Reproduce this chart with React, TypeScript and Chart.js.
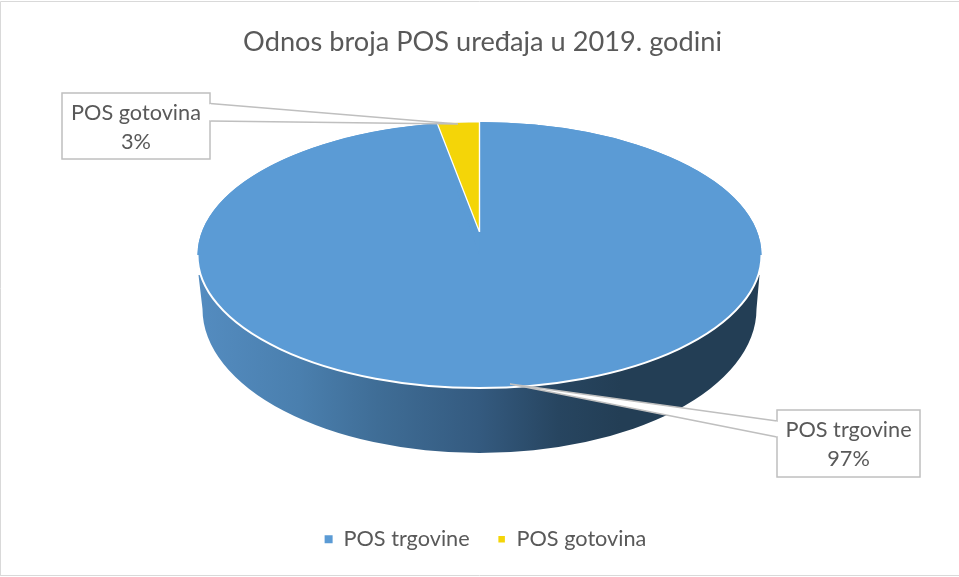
import React, { useEffect, useRef } from "react";
import { Chart, registerables } from "chart.js";

Chart.register(...registerables);

const categories = ["POS trgovine", "POS gotovina"];
const shares = [97.4, 2.6];
const sliceColors = ["#5B9BD5", "#F4D508"];
const chartTitle = "Odnos broja POS uređaja u 2019. godini";

const FONT = "Lato, Carlito, Calibri, sans-serif";
const TEXT = "#595959";
const LINE = "#BFBFBF";

// 3D projection of the disc
const RADIUS = 282;
const TOP_CX = 479.5;
const TOP_CY = 255;
const TILT = 133 / RADIUS;
const APEX_RISE = 23; // perspective: the visual centre of the disc lies above the ellipse centre
const BACK_TILT = 110 / RADIUS;
const BACK_SX = 0.92;
const BASE_DROP = 54;
const BASE_RX = 277;
const BASE_RY = 144;
const LEGEND_NUDGE = 3;

const callouts = [
  { box: [62, 93, 148, 66], neck: [[210, 103.5], [458, 124], [210, 121]] },
  { box: [777, 410, 143, 67], neck: [[777, 421], [510, 384], [777, 437]] },
];
const calloutOrder = [1, 0];

const tiltPlugin = {
  id: "tilt",
  afterLayout(chart: any) {
    chart.legend.left += LEGEND_NUDGE;
    chart.legend.right += LEGEND_NUDGE;
  },
  beforeDatasetsDraw(chart: any) {
    const { ctx } = chart;
    const arcs = chart.getDatasetMeta(0).data;
    const cx = TOP_CX;
    const r = arcs[0].outerRadius;
    arcs.forEach((arc: any, i: number) => {
      if (arc.__wrapped) return;
      arc.__wrapped = true;
      const original = arc.draw.bind(arc);
      arc.draw = (c: any, area: any) => {
        c.save();
        const back = i === 1;
        c.translate(TOP_CX, TOP_CY - (back ? APEX_RISE : 0));
        c.scale(back ? BACK_SX : 1, back ? BACK_TILT : TILT);
        c.translate(-arc.x, -arc.y);
        original(c, area);
        c.restore();
      };
    });
    // Side wall
    const baseCy = TOP_CY + BASE_DROP;
    const wallTop = TOP_CY + 20;
    const g = ctx.createLinearGradient(cx - r, 0, cx + r, 0);
    const stops: [number, string][] = [
      [0, "#548CC0"],
      [0.18, "#4A7FAE"],
      [0.32, "#3F6D96"],
      [0.5, "#345A7F"],
      [0.64, "#274560"],
      [0.75, "#233E55"],
      [1, "#233E55"],
    ];
    stops.forEach(([o, col]) => g.addColorStop(o, col));
    ctx.save();
    ctx.beginPath();
    ctx.moveTo(cx - r + 1, wallTop);
    ctx.lineTo(cx - BASE_RX, baseCy);
    ctx.ellipse(cx, baseCy, BASE_RX, BASE_RY, 0, Math.PI, 0, true);
    ctx.lineTo(cx + r - 2, wallTop);
    ctx.closePath();
    ctx.fillStyle = g;
    ctx.fill();
    // Disc backing in the main slice colour
    ctx.beginPath();
    ctx.ellipse(cx, TOP_CY, r, r * TILT, 0, 0, Math.PI * 2);
    ctx.fillStyle = sliceColors[0];
    ctx.fill();
    ctx.restore();
  },
  afterDatasetsDraw(chart: any) {
    const { ctx } = chart;
    const arcs = chart.getDatasetMeta(0).data;
    const r = arcs[0].outerRadius;
    ctx.save();
    ctx.beginPath();
    ctx.ellipse(TOP_CX, TOP_CY, r, r * TILT, 0, 0, Math.PI);
    ctx.strokeStyle = "#FFFFFF";
    ctx.lineWidth = 2;
    ctx.stroke();

    // Frame
    ctx.strokeStyle = "#D9D9D9";
    ctx.lineWidth = 1;
    ctx.beginPath();
    ctx.moveTo(0.5, 575.5);
    ctx.lineTo(0.5, 1.5);
    ctx.lineTo(959, 1.5);
    ctx.moveTo(0, 575.5);
    ctx.lineTo(959, 575.5);
    ctx.stroke();

    // Callouts
    const total = shares.reduce((a, b) => a + b, 0);
    calloutOrder.forEach((dataIdx) => {
      const { box, neck } = callouts[dataIdx === 1 ? 0 : 1];
      const [x, y, w, h] = box;
      ctx.strokeStyle = LINE;
      ctx.lineWidth = 1.5;
      ctx.fillStyle = "#FFFFFF";
      ctx.fillRect(x, y, w, h);
      ctx.strokeRect(x, y, w, h);
      ctx.beginPath();
      ctx.moveTo(neck[0][0], neck[0][1]);
      ctx.lineTo(neck[1][0], neck[1][1]);
      ctx.lineTo(neck[2][0], neck[2][1]);
      ctx.closePath();
      ctx.fill();
      ctx.beginPath();
      ctx.moveTo(neck[0][0], neck[0][1]);
      ctx.lineTo(neck[1][0], neck[1][1]);
      ctx.lineTo(neck[2][0], neck[2][1]);
      ctx.stroke();
      // clear the box edge where the neck opens into it
      ctx.fillRect(
        neck[0][0] - 1.2 + (dataIdx === 1 ? 0 : 0.2),
        neck[0][1] + 0.8,
        2.2,
        neck[2][1] - neck[0][1] - 1.6
      );
      ctx.fillStyle = TEXT;
      ctx.font = `21.7px ${FONT}`;
      ctx.textAlign = "center";
      ctx.textBaseline = "middle";
      const mx = x + w / 2;
      ctx.fillText(categories[dataIdx], mx, y + 20.5);
      ctx.fillText(`${((shares[dataIdx] / total) * 100).toFixed(0)}%`, mx, y + 49.5);
    });
    ctx.restore();
  },
};

export default function App() {
  const ref = useRef<HTMLCanvasElement>(null);
  useEffect(() => {
    const chart = new Chart(ref.current as HTMLCanvasElement, {
      type: "pie",
      data: {
        labels: categories,
        datasets: [
          {
            data: shares,
            backgroundColor: sliceColors,
            borderColor: "#FFFFFF",
            borderWidth: [0, 1.5],
            clip: false,
          } as any,
        ],
      },
      options: {
        responsive: false,
        animation: false,
        radius: RADIUS,
        layout: { padding: { top: 26, bottom: 17, left: 6, right: 0 } },
        plugins: {
          tooltip: { enabled: false },
          title: {
            display: true,
            text: chartTitle,
            color: TEXT,
            font: { family: FONT, size: 27.2, weight: "normal" },
            padding: { top: 0, bottom: 10 },
          },
          legend: {
            position: "bottom",
            labels: {
              usePointStyle: true,
              pointStyle: "rect",
              boxWidth: 8,
              boxHeight: 8,
              padding: 28,
              color: TEXT,
              font: { family: FONT, size: 21.7 },
            },
          },
        },
      } as any,
      plugins: [tiltPlugin as any],
    });
    return () => chart.destroy();
  }, []);
  return (
    <div style={{ position: "fixed", left: 0, top: 0, width: 959, height: 577, background: "#fff" }}>
      <canvas ref={ref} width={959} height={577} style={{ display: "block" }} />
    </div>
  );
}
